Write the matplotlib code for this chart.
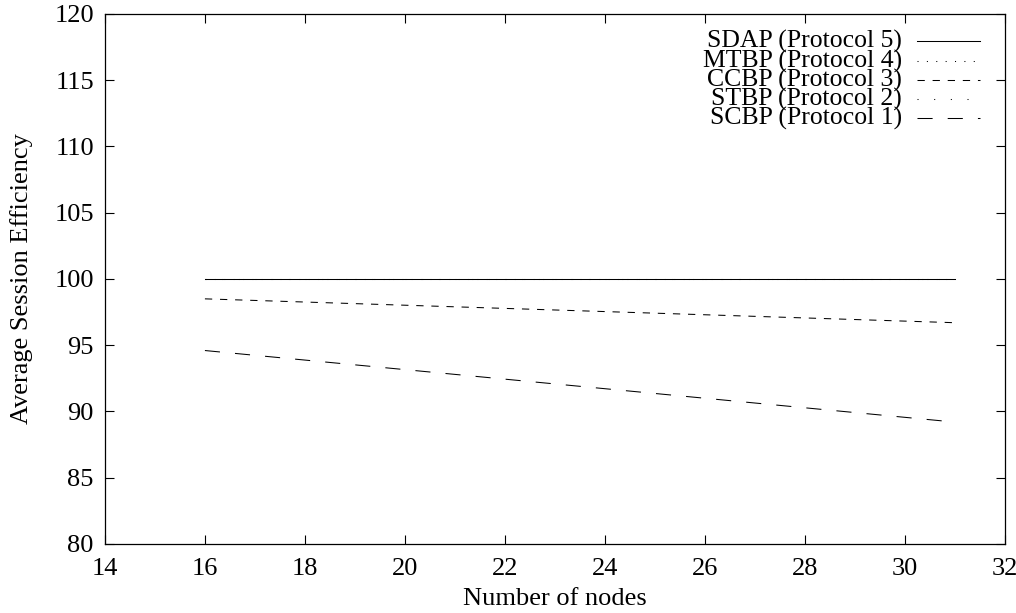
import numpy as np
import matplotlib.pyplot as plt
from matplotlib.lines import Line2D

plt.rcParams['font.family'] = ['Liberation Serif', 'DejaVu Serif']
plt.rcParams['font.size'] = 19

# Data
nodes = [16, 31]
sdap = [100.0, 100.0]
mtbp = [100.0, 100.0]
ccbp = [98.5, 96.7]
stbp = [100.0, 100.0]
scbp = [94.6, 89.2]

labels = ["SDAP (Protocol 5)", "MTBP (Protocol 4)", "CCBP (Protocol 3)",
          "STBP (Protocol 2)", "SCBP (Protocol 1)"]
series = [sdap, mtbp, ccbp, stbp, scbp]
styles = ['-', (0, (1, 8)), (0, (7, 7.5)), (0, (1, 15)), (0, (14.5, 14.5))]

fig = plt.figure(figsize=(10.16, 6.13), dpi=100)
ax = fig.add_axes([0.1033, 0.1126, 0.8855, 0.8646])

for vals, ls in zip(series, styles):
    ax.plot(nodes, vals, color='black', linestyle=ls, linewidth=0.75)

ax.set_xlim(14, 32)
ax.set_ylim(80, 120)
ax.set_xticks(np.arange(14, 33, 2))
ax.set_yticks(np.arange(80, 121, 5))
ax.tick_params(direction='in', length=6.5, width=0.8, top=True, right=True)
ax.tick_params(axis='x', pad=10)
ax.tick_params(axis='y', pad=8)
for s in ax.spines.values():
    s.set_linewidth(0.9)

ax.set_xlabel("Number of nodes", labelpad=6)
ax.set_ylabel("Average Session Efficiency", labelpad=15)

# gnuplot-style key: text right-aligned, sample on the right
row_y = [41, 61, 80, 99, 118]
for lab, ls, py in zip(labels, styles, row_y):
    yf = 1 - (py - 14) / 530
    ax.text((902 - 105) / 900, yf, lab, transform=ax.transAxes,
            ha='right', va='center', fontsize=18.5)
    ax.add_line(Line2D([(917 - 105) / 900, (980 - 105) / 900], [yf, yf],
                       transform=ax.transAxes, color='black',
                       linestyle=ls, linewidth=0.75))

fig.savefig("out.png", dpi=100)
